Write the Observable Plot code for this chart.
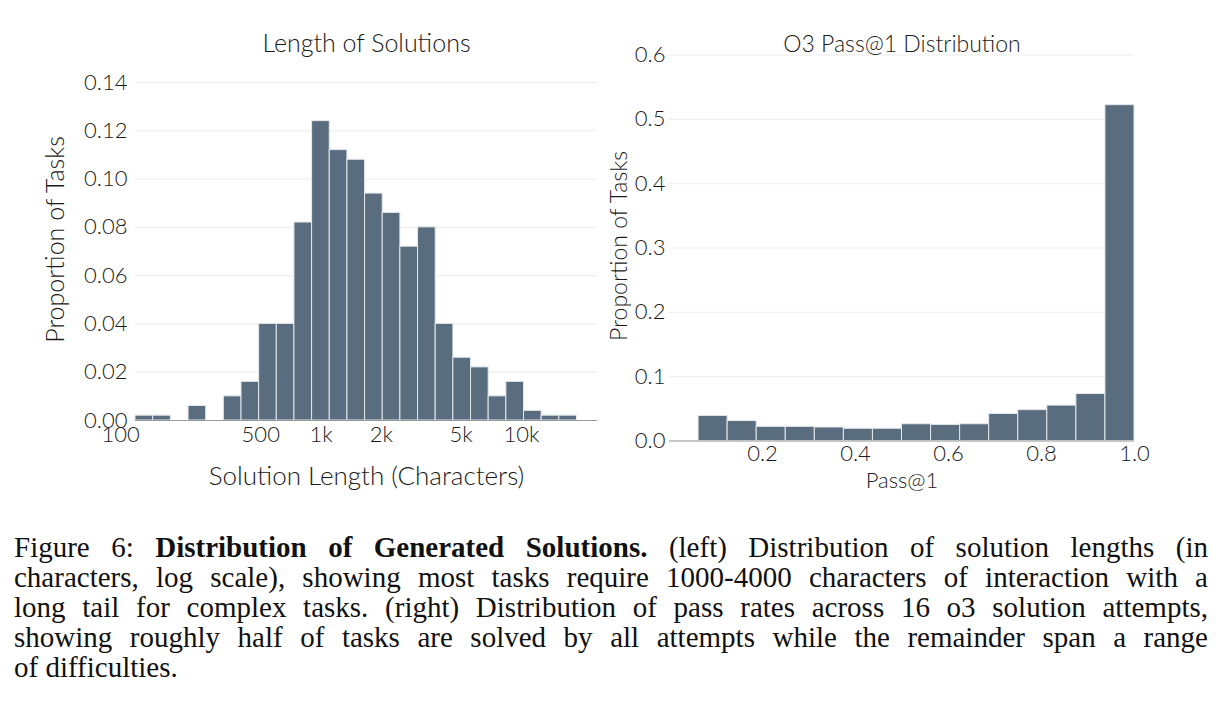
<!DOCTYPE html>
<html><head><meta charset="utf-8">
<script src="https://cdn.jsdelivr.net/npm/d3@7"></script>
<script src="https://cdn.jsdelivr.net/npm/@observablehq/plot@0.6"></script>
<style>
html,body{margin:0;padding:0;background:#fff;}
body{width:1222px;height:716px;overflow:hidden;position:relative;font-family:Lato,sans-serif;}
#left{position:absolute;left:0;top:0}
#right{position:absolute;left:600px;top:0}
#caption{position:absolute;left:14px;top:532px;width:1194px;font-family:"Liberation Serif",serif;font-size:29px;line-height:30px;color:#111}
#caption div{text-align:justify;text-align-last:justify;white-space:nowrap}
#caption div.last{text-align-last:left}
</style></head><body>
<div id="left"></div><div id="right"></div>
<div id="caption">
<div>Figure 6: <b>Distribution of Generated Solutions.</b> (left) Distribution of solution lengths (in</div>
<div>characters, log scale), showing most tasks require 1000-4000 characters of interaction with a</div>
<div>long tail for complex tasks. (right) Distribution of pass rates across 16 o3 solution attempts,</div>
<div>showing roughly half of tasks are solved by all attempts while the remainder span a range</div>
<div class="last">of difficulties.</div>
</div>
<script>
// ---- Left: Length of Solutions (log-binned histogram) ----
const lengthBinEdges = [118.6,145.3,178.0,218.1,267.2,327.2,400.8,490.9,601.2,736.4,902.0,1104.8,1353.2,1657.6,2030.4,2487,3046,3731,4571,5599,6858,8401,10290,12605,15440,18911];
const lengthProportions = [0.002,0.002,0,0.006,0,0.010,0.016,0.040,0.040,0.082,0.124,0.112,0.108,0.094,0.086,0.072,0.080,0.040,0.026,0.022,0.010,0.016,0.004,0.002,0.002];
const lengthTicks = [100,500,1000,2000,5000,10000];
const lengthTickLabels = ["100","500","1k","2k","5k","10k"];
const lengthYTicks = [0,0.02,0.04,0.06,0.08,0.10,0.12,0.14];

// ---- Right: O3 Pass@1 Distribution ----
const passBinEdges = [0.0625,0.125,0.1875,0.25,0.3125,0.375,0.4375,0.5,0.5625,0.625,0.6875,0.75,0.8125,0.875,0.9375,1.0];
const passProportions = [0.039,0.031,0.022,0.022,0.021,0.019,0.019,0.026,0.025,0.026,0.042,0.048,0.055,0.073,0.522];
const passTicks = [0.2,0.4,0.6,0.8,1.0];
const passYTicks = [0,0.1,0.2,0.3,0.4,0.5,0.6];

const barFill = "#596d7e";
const textColor = "#1a1a1a";
const font = "Lato, sans-serif";

const lengthBins = lengthProportions.map((p,i)=>({x1: lengthBinEdges[i], x2: lengthBinEdges[i+1], p})).filter(d=>d.p>0);
const lengthLabelMap = new Map(lengthTicks.map((t,i)=>[t, lengthTickLabels[i]]));

const left = Plot.plot({
  width: 600, height: 500,
  marginLeft: 135, marginRight: 3, marginTop: 82, marginBottom: 80,
  style: {fontFamily: font, fontSize: "22px", fontWeight: 300, color: textColor, background: "transparent", overflow: "visible"},
  x: {type: "log", domain: [118.6, 23940], axis: null},
  y: {domain: [0, 0.14], axis: null},
  marks: [
    Plot.gridY(lengthYTicks, {stroke: "#ececec", strokeOpacity: 1}),
    Plot.rectY(lengthBins, {x1: "x1", x2: "x2", y: "p", fill: barFill, stroke: "#e4e8ec", strokeWidth: 1}),
    Plot.ruleY([0], {stroke: "#999"}),
    Plot.text(lengthTicks, {x: d => d, text: d => lengthLabelMap.get(d), frameAnchor: "bottom", lineAnchor: "top", dy: 6, fontSize: 22, fill: textColor}),
    Plot.axisY(lengthYTicks, {tickFormat: d => d.toFixed(2), tickSize: 0, tickPadding: 8, fontSize: 22, label: null, fill: textColor}),
    Plot.text(["Solution Length (Characters)"], {text: d => d, frameAnchor: "bottom", lineAnchor: "middle", dy: 56, fontSize: 26, fill: textColor}),
    Plot.text(["Proportion of Tasks"], {text: d => d, frameAnchor: "left", textAnchor: "middle", lineAnchor: "middle", rotate: -90, dx: -80, dy: -12, fontSize: 25, fill: textColor}),
    Plot.text(["Length of Solutions"], {text: d => d, frameAnchor: "top", lineAnchor: "middle", dy: -39, fontSize: 25, fill: textColor})
  ]
});
document.getElementById("left").appendChild(left);

const passBins = passProportions.map((p,i)=>({x1: passBinEdges[i], x2: passBinEdges[i+1], p}));

const right = Plot.plot({
  width: 622, height: 500,
  marginLeft: 69, marginRight: 88, marginTop: 54.5, marginBottom: 59.5,
  style: {fontFamily: font, fontSize: "22px", fontWeight: 300, color: textColor, background: "transparent", overflow: "visible"},
  x: {domain: [0, 1], axis: null},
  y: {domain: [0, 0.6], axis: null},
  marks: [
    Plot.gridY(passYTicks, {stroke: "#ececec", strokeOpacity: 1}),
    Plot.rectY(passBins, {x1: "x1", x2: "x2", y: "p", fill: barFill, stroke: "#e4e8ec", strokeWidth: 1}),
    Plot.ruleY([0], {stroke: "#999"}),
    Plot.axisX(passTicks, {tickFormat: d => d.toFixed(1), tickSize: 0, tickPadding: 4, fontSize: 22, label: null, fill: textColor}),
    Plot.axisY(passYTicks, {tickFormat: d => d.toFixed(1), tickSize: 0, tickPadding: 4, fontSize: 22, label: null, fill: textColor}),
    Plot.text(["Pass@1"], {text: d => d, frameAnchor: "bottom", lineAnchor: "middle", dy: 40, fontSize: 22, fill: textColor}),
    Plot.text(["Proportion of Tasks"], {text: d => d, frameAnchor: "left", textAnchor: "middle", lineAnchor: "middle", rotate: -90, dx: -50, dy: -2, fontSize: 23, fill: textColor}),
    Plot.text(["O3 Pass@1 Distribution"], {text: d => d, frameAnchor: "top", lineAnchor: "middle", dy: -10.5, fontSize: 23, fill: textColor})
  ]
});
document.getElementById("right").appendChild(right);
</script>
</body></html>
